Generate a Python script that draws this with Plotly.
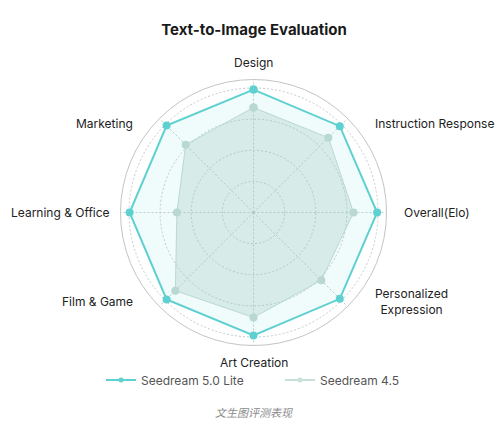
import math
import plotly.graph_objects as go

categories = ["Design", "Instruction Response", "Overall(Elo)", "Personalized<br>Expression",
              "Art Creation", "Film & Game", "Learning & Office", "Marketing"]
lite_values = [98.7, 98.0, 99.3, 98.0, 98.7, 98.7, 99.5, 98.7]
v45_values = [84.3, 85.0, 80.3, 77.0, 84.3, 88.8, 61.5, 77.0]
series_names = ["Seedream 5.0 Lite", "Seedream 4.5"]

FONT = "Inter"
W, H = 500, 425
CX, CY, R = 253.5, 212.5, 133.0
LITE_C = "#5fd0d0"
V45_C = "#b9d8cf"

fig = go.Figure()
fig.add_trace(go.Scatterpolar(
    r=lite_values + lite_values[:1], theta=categories + categories[:1],
    name=series_names[0], mode="lines+markers", showlegend=False,
    line=dict(color=LITE_C, width=2),
    marker=dict(color=LITE_C, size=8),
    fill="toself", fillcolor="rgba(110,215,215,0.10)",
))
fig.add_trace(go.Scatterpolar(
    r=v45_values + v45_values[:1], theta=categories + categories[:1],
    name=series_names[1], mode="lines+markers", showlegend=False,
    line=dict(color="rgba(175,210,200,0.8)", width=1),
    marker=dict(color=V45_C, size=8),
    fill="toself", fillcolor="rgba(160,200,190,0.30)",
))
# legend entries (line + dot, no fill swatch)
for name, col in [(series_names[0], LITE_C), (series_names[1], "#c6e2da")]:
    fig.add_trace(go.Scatterpolar(r=[None], theta=[None], name=name, mode="lines+markers",
                                  line=dict(color=col, width=2), marker=dict(color=col, size=5),
                                  showlegend=True))

# category labels placed around the chart
annotations = []
n = len(categories)
for i, cat in enumerate(categories):
    ang = 2 * math.pi * i / n
    s, c = math.sin(ang), math.cos(ang)
    if abs(s) < 0.1:
        x, y, xa = CX, CY - 150 * c, "center"
    elif abs(c) < 0.1:
        x = CX + 148 if s > 0 else CX - 142
        y, xa = CY, ("left" if s > 0 else "right")
    else:
        x = CX + 119 if s > 0 else CX - 119
        y, xa = CY - 89 * (1 if c > 0 else -1), ("left" if s > 0 else "right")
    annotations.append(dict(text=cat, x=x / W, y=1 - y / H, xref="paper", yref="paper",
                            showarrow=False, xanchor=xa, yanchor="middle", align="center",
                            font=dict(size=12, color="#222", family=FONT)))
annotations.append(dict(text="文生图评测表现", x=0.508, y=1 - 412 / H, xref="paper", yref="paper",
                        showarrow=False, xanchor="center", yanchor="middle",
                        font=dict(size=11, color="#8a8a8a", family="Noto Sans CJK SC", style="italic")))

fig.update_layout(
    width=W, height=H,
    margin=dict(l=0, r=0, t=0, b=0),
    paper_bgcolor="white", plot_bgcolor="white",
    font=dict(family=FONT, color="#222", size=12),
    title=dict(text="<b>Text-to-Image Evaluation</b>", x=0.508, xanchor="center",
               y=1 - 30 / H, yanchor="middle", font=dict(size=15, color="#1a1a1a", family=FONT)),
    polar=dict(
        domain=dict(x=[(CX - R) / W, (CX + R) / W], y=[1 - (CY + R) / H, 1 - (CY - R) / H]),
        bgcolor="white",
        radialaxis=dict(range=[0, 106.8], tickvals=[25, 50, 75, 100], showticklabels=False,
                        ticks="", showline=False, gridcolor="#c4cccc", griddash="2px,2px", gridwidth=1),
        angularaxis=dict(rotation=90, direction="clockwise", showline=True, linecolor="#c4c4c4",
                         linewidth=1, gridcolor="#c4cccc", griddash="2px,2px", ticks="",
                         showticklabels=False),
    ),
    showlegend=True,
    legend=dict(orientation="h", x=101 / W, xanchor="left", y=1 - 380 / H, yanchor="middle",
                bgcolor="rgba(0,0,0,0)",
                font=dict(size=12, color="#555", family=FONT), entrywidth=134, entrywidthmode="pixels",
                traceorder="normal"),
    annotations=annotations,
)

fig.write_html("out.html")
